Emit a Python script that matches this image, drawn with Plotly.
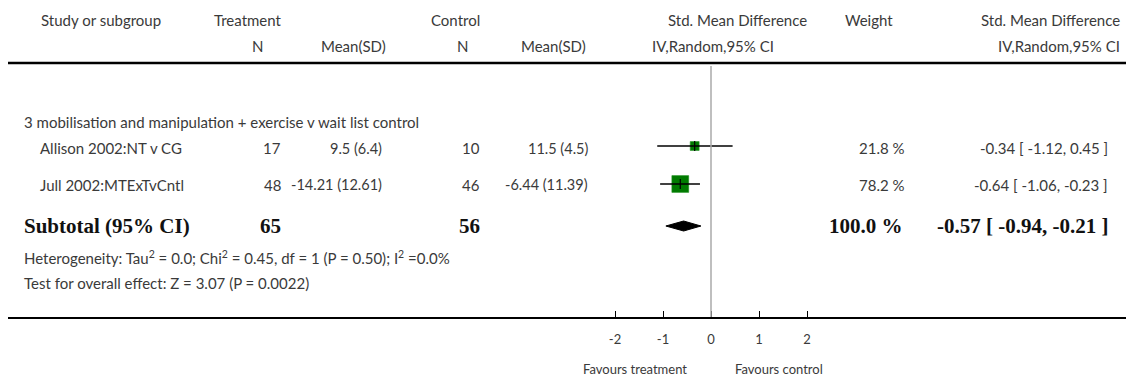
import plotly.graph_objects as go
import math

# ---------------- data ----------------
subgroup_title = "3 mobilisation and manipulation + exercise v wait list control"
studies = ["Allison 2002:NT v CG", "Jull 2002:MTExTvCntl"]
treat_n = [17, 48]
treat_msd = ["9.5 (6.4)", "-14.21 (12.61)"]
ctrl_n = [10, 46]
ctrl_msd = ["11.5 (4.5)", "-6.44 (11.39)"]
smd = [-0.34, -0.64]
ci_lo = [-1.12, -1.06]
ci_hi = [0.45, -0.23]
weights = [21.8, 78.2]

sub_treat_n = 65
sub_ctrl_n = 56
sub_smd = -0.57
sub_lo = -0.94
sub_hi = -0.21
sub_weight = 100.0

heterogeneity = "Heterogeneity: Tau<sup>2</sup> = 0.0; Chi<sup>2</sup> = 0.45, df = 1 (P = 0.50); I<sup>2</sup> =0.0%"
overall = "Test for overall effect: Z = 3.07 (P = 0.0022)"

tick_vals = [-2, -1, 0, 1, 2]
tick_text = ["-2", "-1", "0", "1", "2"]
favours_left = "Favours treatment"
favours_right = "Favours control"

# ---------------- layout geometry ----------------
W, H = 1129, 378
ML, MR = 8, 3
AXIS_Y = 317
PX_PER_UNIT = 48
ZERO_PX = 711
x_r0 = -(ZERO_PX - ML) / PX_PER_UNIT
x_r1 = (W - MR - ZERO_PX) / PX_PER_UNIT

row_y = [146, 184]
text_y = [148, 185]
sub_y = 226

FONT = "Lato"
TXT = "#3a3a3a"
FS = 15

fig = go.Figure()

def px(xp):
    return (xp - ML) / (W - ML - MR)

def py(yp):
    return (AXIS_Y - yp) / AXIS_Y

annos = []
def add_text(x, y, text, anchor="left", size=FS, family=FONT, color=TXT):
    annos.append(dict(x=px(x), xref="paper", y=py(y), yref="paper", text=text,
                      showarrow=False, xanchor=anchor, yanchor="middle",
                      font=dict(size=size, family=family, color=color)))

# header
add_text(39, 20, "Study or subgroup")
add_text(248, 20, "Treatment", "center")
add_text(455, 20, "Control", "center")
add_text(737, 20, "Std. Mean Difference", "center")
add_text(869, 20, "Weight", "center")
add_text(1122, 20, "Std. Mean Difference", "right")
add_text(257, 46, "N", "center")
add_text(388, 46, "Mean(SD)", "right")
add_text(462, 46, "N", "center")
add_text(588, 46, "Mean(SD)", "right")
add_text(713, 46, "IV,Random,95% CI", "center")
add_text(1122, 46, "IV,Random,95% CI", "right")

add_text(22, 122, subgroup_title)
for i, name in enumerate(studies):
    y = text_y[i]
    add_text(38, y, name)
    add_text(283, y, str(treat_n[i]), "right")
    add_text(384, y, treat_msd[i], "right", size=14.5)
    add_text(482, y, str(ctrl_n[i]), "right")
    add_text(590, y, ctrl_msd[i], "right", size=14.5)
    add_text(907, y, f"{weights[i]:.1f} %", "right")
    add_text(1110, y, f"{smd[i]:.2f} [ {ci_lo[i]:.2f}, {ci_hi[i]:.2f} ]", "right")

SERIF = "Liberation Serif"
BS = 21
add_text(22, sub_y, "<b>Subtotal (95% CI)</b>", size=BS, family=SERIF, color="#111")
add_text(283, sub_y, f"<b>{sub_treat_n}</b>", "right", size=BS, family=SERIF, color="#111")
add_text(482, sub_y, f"<b>{sub_ctrl_n}</b>", "right", size=BS, family=SERIF, color="#111")
add_text(905, sub_y, f"<b>{sub_weight:.1f} %</b>", "right", size=BS, family=SERIF, color="#111")
add_text(1110, sub_y, f"<b>{sub_smd:.2f} [ {sub_lo:.2f}, {sub_hi:.2f} ]</b>", "right", size=BS, family=SERIF, color="#111")

add_text(22, 257, heterogeneity)
add_text(22, 283, overall)

add_text(635, 369, favours_left, "center", size=13)
add_text(779, 369, favours_right, "center", size=13)

# squares (drawn first so the CI line shows across them)
fig.add_trace(go.Scatter(x=smd, y=row_y, mode="markers",
                         marker=dict(symbol="square", color="#007a00", opacity=1,
                                     size=[19 * math.sqrt(w / 100) for w in weights],
                                     line=dict(color="#1f8f1f", width=0.6)),
                         hoverinfo="skip", showlegend=False))
# CI lines
for i in range(len(studies)):
    fig.add_trace(go.Scatter(x=[ci_lo[i], ci_hi[i]], y=[row_y[i], row_y[i]], mode="lines",
                             line=dict(color="black", width=1.3), hoverinfo="skip", showlegend=False))
fig.add_trace(go.Scatter(x=smd, y=row_y, mode="markers",
                         marker=dict(symbol="line-ns", size=7, line=dict(color="black", width=1.2)),
                         hoverinfo="skip", showlegend=False))
# diamond
dh = 5
fig.add_trace(go.Scatter(x=[sub_lo, sub_smd, sub_hi, sub_smd, sub_lo],
                         y=[sub_y, sub_y - dh, sub_y, sub_y + dh, sub_y],
                         mode="lines", fill="toself", fillcolor="black",
                         line=dict(color="black", width=1), hoverinfo="skip", showlegend=False))

shapes = [
    dict(type="line", xref="paper", yref="y", x0=0, x1=1, y0=63, y1=63,
         line=dict(color="black", width=2.3)),
    dict(type="line", xref="x", yref="y", x0=0, x1=0, y0=66, y1=AXIS_Y,
         line=dict(color="#aaaaaa", width=1.5)),
]

fig.update_layout(
    width=W, height=H,
    margin=dict(l=ML, r=MR, t=0, b=H - AXIS_Y),
    paper_bgcolor="white", plot_bgcolor="white",
    showlegend=False,
    annotations=annos, shapes=shapes,
    xaxis=dict(range=[x_r0, x_r1], showgrid=False, zeroline=False,
               showline=True, linecolor="black", linewidth=2.3,
               tickmode="array", tickvals=tick_vals, ticktext=tick_text,
               ticks="inside", ticklen=6, tickcolor="black", tickwidth=1,
               ticklabelstandoff=9,
               tickfont=dict(family=FONT, size=13, color=TXT), fixedrange=True),
    yaxis=dict(range=[AXIS_Y, 0], showgrid=False, zeroline=False, showline=False,
               showticklabels=False, fixedrange=True),
)

fig.write_html("out.html", config={"displayModeBar": False},
               post_script="document.body.style.margin='0px';")
